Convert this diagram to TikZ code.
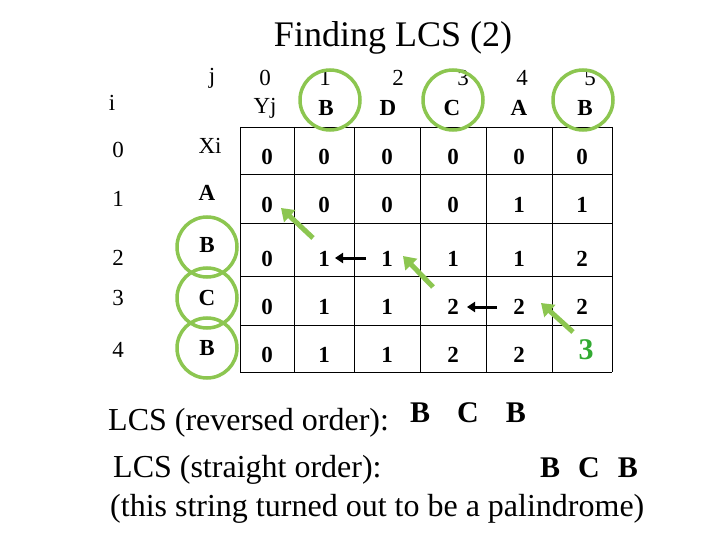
\documentclass[tikz,border=0pt]{standalone}
\usepackage{fontspec}
\setmainfont{Liberation Serif}
\definecolor{lg}{RGB}{140,198,80}
\definecolor{dg}{RGB}{50,170,50}
\begin{document}
\begin{tikzpicture}[x=1pt,y=-1pt,
 lbl/.style={inner sep=0pt,font=\fontsize{23}{25}\selectfont},
 num/.style={inner sep=0pt,font=\fontsize{23}{25}\selectfont\bfseries},
 ring/.style={draw=lg,line width=3.5pt,circle,minimum size=60pt,inner sep=0pt},
 garrow/.style={draw=lg,line width=5pt,-{Triangle[length=12pt,width=16pt]}},
 barrow/.style={draw=black,line width=3pt,-{Triangle[length=8pt,width=10pt]}},
 big/.style={inner sep=0pt,font=\fontsize{32}{36}\selectfont,anchor=base west}]
\usetikzlibrary{arrows.meta}
\useasboundingbox (0,0) rectangle (720,540);
\fill[white] (0,0) rectangle (720,540);
\node[inner sep=0pt,font=\fontsize{36}{40}\selectfont] (title) at (393,38) {Finding LCS (2)};
% grid
\foreach \x in {240,294,354,420,486,552,612} \draw[line width=0.8pt] (\x,127) -- (\x,372);
\foreach \y in {127,174,223,276,325,372} \draw[line width=0.8pt] (240,\y) -- (612,\y);
% headers
\node[lbl] (j) at (212,78) {j};
\node[lbl] (i) at (112,103) {i};
\foreach \x/\t/\n in {265/0/c0,325/1/c1,398/2/c2,463/3/c3,522/4/c4,590/5/c5} \node[lbl] (\n) at (\x,78) {\t};
\node[lbl] (yj) at (265,108) {Yj};
\foreach \x/\t/\n in {326/B/y1,388/D/y2,452/C/y3,519/A/y4,585/B/y5} \node[num] (\n) at (\x,108) {\t};
\foreach \y/\t/\n in {150/0/r0,199/1/r1,258/2/r2,298/3/r3,350/4/r4} \node[lbl] (\n) at (118,\y) {\t};
\node[lbl] (xi) at (210,146) {Xi};
\foreach \y/\t/\n in {193/A/x1,245/B/x2,298/C/x3,348/B/x4} \node[num] (\n) at (207,\y) {\t};
% cells
\def\cx{{267,324,387,453,519,582}}
\foreach \y [count=\r] in {157,205,259,307,355} {
  \foreach \c in {0,...,5} { \pgfmathsetmacro{\xx}{\cx[\c]} \coordinate (p\r-\c) at (\xx,\y); } }
\foreach \r/\vals in {1/{0,0,0,0,0,0},2/{0,0,0,0,1,1},3/{0,1,1,1,1,2},4/{0,1,1,2,2,2},5/{0,1,1,2,2,}} {
  \foreach \v [count=\c from 0] in \vals { \node[num] (v\r-\c) at (p\r-\c) {\v}; } }
\node[inner sep=0pt,font=\fontsize{30}{32}\selectfont\bfseries,text=dg] (three) at (586,350) {3};
% circles
\foreach \x/\n in {330/k1,453/k3,583/k5} \node[ring] (\n) at (\x,100) {};
\foreach \y/\n in {247/k7,298/k8,348/k9} \node[ring] (\n) at (207,\y) {};
% arrows
\coordinate (a1s) at (313,238); \coordinate (a1e) at (281,208);
\coordinate (a2s) at (433,287); \coordinate (a2e) at (403,256);
\coordinate (a3s) at (573,332); \coordinate (a3e) at (541,303);
\draw[garrow] (a1s) -- (a1e);
\draw[garrow] (a2s) -- (a2e);
\draw[garrow] (a3s) -- (a3e);
\coordinate (b1s) at (366,258); \coordinate (b1e) at (335,258);
\coordinate (b2s) at (497,307); \coordinate (b2e) at (467,307);
\draw[barrow] (b1s) -- (b1e);
\draw[barrow] (b2s) -- (b2e);
% text
\node[big] (t1) at (108,430) {LCS (reversed order):};
\node[big,font=\fontsize{30}{34}\selectfont\bfseries] (t1b) at (410,422) {B\hspace{27pt}C\hspace{27pt}B};
\node[big] (t2) at (113,477) {LCS (straight order):};
\node[big,font=\fontsize{30}{34}\selectfont\bfseries] (t2b) at (540,477) {B\hspace{18pt}C\hspace{18pt}B};
\node[big] (t3) at (110,516) {(this string turned out to be a palindrome)};
\end{tikzpicture}
\end{document}
